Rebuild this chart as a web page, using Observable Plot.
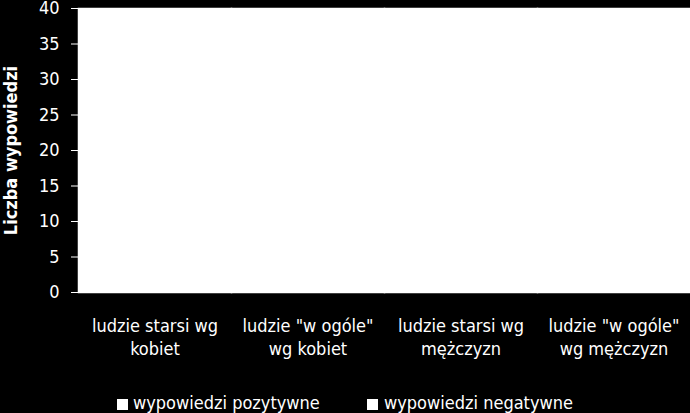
<!DOCTYPE html>
<html>
<head>
<meta charset="utf-8">
<script src="https://cdn.jsdelivr.net/npm/d3@7"></script>
<script src="https://cdn.jsdelivr.net/npm/@observablehq/plot@0.6"></script>
<style>
  html, body { margin: 0; padding: 0; background: #000; }
  #wrap { width: 690px; height: 413px; position: relative; background: #000; overflow: hidden;
          font-family: "Liberation Sans Narrow", "DejaVu Sans Condensed", sans-serif; }
  #legend { position: absolute; left: 0; top: 385px; width: 690px; height: 28px; color: #fff; font-size: 18px; }
  .sw { position: absolute; width: 11px; height: 11px; background: #fff; top: 14px; }
  .lt { position: absolute; top: 8px; line-height: 20px; white-space: nowrap; }
</style>
</head>
<body>
<div id="wrap"></div>
<script>
// Categories (x axis)
const categories = [
  "ludzie starsi wg\nkobiet",
  "ludzie \"w ogóle\"\nwg kobiet",
  "ludzie starsi wg\nmężczyzn",
  "ludzie \"w ogóle\"\nwg mężczyzn"
];
// Series names (legend)
const series = ["wypowiedzi pozytywne", "wypowiedzi negatywne"];
// Values: no bar is visible above the baseline in the reference (white on white)
const positive = [0, 0, 0, 0];
const negative = [0, 0, 0, 0];
const seriesColors = ["#ffffff", "#ffffff"];
const yTicks = [0, 5, 10, 15, 20, 25, 30, 35, 40];

const data = [];
categories.forEach((c, i) => {
  data.push({category: c, series: series[0], value: positive[i]});
  data.push({category: c, series: series[1], value: negative[i]});
});

const font = "\"Liberation Sans Narrow\", \"DejaVu Sans Condensed\", sans-serif";

const chart = Plot.plot({
  width: 690,
  height: 385,
  marginTop: 8,
  marginLeft: 77,
  marginRight: 0,
  marginBottom: 93,
  style: {background: "#000", color: "#fff", fontFamily: font, fontSize: "18px"},
  fx: {domain: categories, paddingInner: 0, paddingOuter: 0},
  x: {domain: series, padding: 0.2, axis: null},
  y: {domain: [0, 40]},
  color: {domain: series, range: seriesColors},
  marks: [
    Plot.frame({fill: "#fff", stroke: "#fff", strokeWidth: 1.5}),
    Plot.barY(data, {fx: "category", x: "series", y: "value", fill: "series"}),
    Plot.axisY({
      ticks: yTicks, tickSize: 7, tickPadding: 12, stroke: "#fff",
      label: "Liczba wypowiedzi", labelAnchor: "center", labelArrow: "none", labelOffset: 74,
      fontSize: 18
    }),
    Plot.axisFx({
      anchor: "bottom", tickSize: 0, tickPadding: 22, label: null, lineHeight: 1.33, fontSize: 18
    })
  ]
});

const lbl = chart.querySelector('[aria-label="y-axis label"]');
if (lbl) { lbl.style.fontWeight = "bold"; lbl.setAttribute("font-weight", "bold"); }

const wrap = document.getElementById("wrap");
wrap.appendChild(chart);

// Legend below the SVG
const legend = document.createElement("div");
legend.id = "legend";
const pos = [{sw: 117, tx: 133}, {sw: 367, tx: 384}];
series.forEach((s, i) => {
  const sw = document.createElement("div");
  sw.className = "sw";
  sw.style.left = pos[i].sw + "px";
  sw.style.background = seriesColors[i];
  const t = document.createElement("div");
  t.className = "lt";
  t.style.left = pos[i].tx + "px";
  t.textContent = s;
  legend.appendChild(sw);
  legend.appendChild(t);
});
wrap.appendChild(legend);
</script>
</body>
</html>
